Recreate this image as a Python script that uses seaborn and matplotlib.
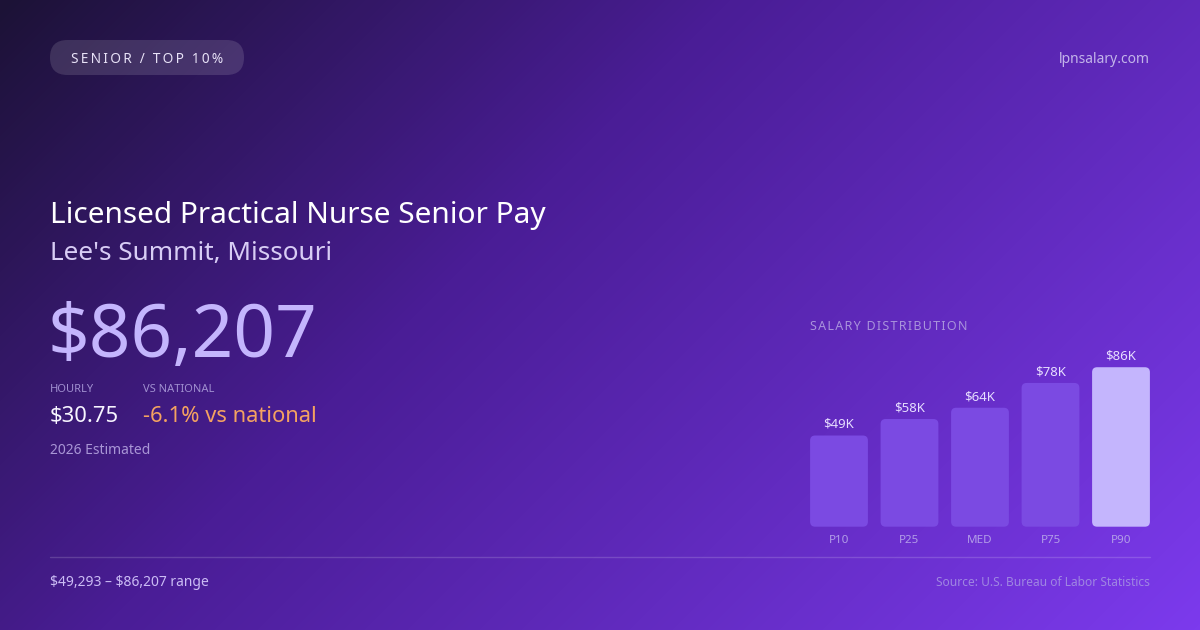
import numpy as np
import pandas as pd
import matplotlib
matplotlib.use("Agg")
import matplotlib.pyplot as plt
from matplotlib.patches import FancyBboxPatch
from matplotlib.colors import LinearSegmentedColormap
import seaborn as sns

# Chart data
percentiles = ["P10", "P25", "MED", "P75", "P90"]
salaries_k = [49.293, 58.2, 64.3, 77.7, 86.207]
value_labels = ["$49K", "$58K", "$64K", "$78K", "$86K"]
bar_colors = ["#7b4ae2", "#7b4ae2", "#7b4ae2", "#7b4ae2", "#c4b5fd"]

badge_text = "SENIOR / TOP 10%"
site = "lpnsalary.com"
title = "Licensed Practical Nurse Senior Pay"
location = "Lee's Summit, Missouri"
annual = "$86,207"
hourly = "$30.75"
vs_national = "-6.1% vs national"
estimate_note = "2026 Estimated"
range_text = "$49,293 \u2013 $86,207 range"
source = "Source: U.S. Bureau of Labor Statistics"

W, H = 1200, 630

sns.set_theme(style="white")
plt.rcParams["font.family"] = ["Noto Sans", "DejaVu Sans"]


def fx(x):
    return x / W


def fy(y):
    return 1 - y / H


def spaced(s, sep="\u200a"):
    return sep.join(s)


def put(x, y, s, **kw):
    # pixel coords from the top-left corner, no mathtext
    kw.setdefault("va", "baseline")
    kw.setdefault("ha", "left")
    return fig.text(fx(x), fy(y), s, parse_math=False, **kw)


fig = plt.figure(figsize=(W / 100, H / 100), dpi=100)

# background gradient (135deg)
bg = fig.add_axes([0, 0, 1, 1])
xx, yy = np.meshgrid(np.arange(W), np.arange(H))
t = ((xx - W / 2) + (yy - H / 2)) / (W + H) + 0.5
cmap = LinearSegmentedColormap.from_list(
    "bg", [(0, "#1c1236"), (0.4, "#4a1d96"), (1, "#7c3aed")])
bg.imshow(t, cmap=cmap, vmin=0, vmax=1, aspect="auto", extent=[0, W, H, 0])
bg.set_xlim(0, W)
bg.set_ylim(H, 0)
bg.axis("off")

# badge
pill = FancyBboxPatch((0.50, (H - 75) / 100), 1.94, 0.35,
                      boxstyle="round,pad=0,rounding_size=0.175",
                      transform=fig.dpi_scale_trans,
                      facecolor="white", alpha=0.13, edgecolor="none")
fig.add_artist(pill)
put(147, 63.3, spaced(badge_text, "\u2009"), ha="center", fontsize=9.8, color="#e8e2f7")
put(1150, 63, site, ha="right", fontsize=10, color="#c3b4ea")

# headline block
put(50, 223, title, fontsize=21.5, color="white")
put(50, 260, location, fontsize=18.8, color="#d8cdf5")
put(48, 357, annual, fontsize=52.5, color="#c4b5fd")

put(50, 392, "HOURLY", fontsize=8, color="#a08fd0")
put(143, 392, "VS NATIONAL", fontsize=8, color="#a08fd0")
put(50, 421.5, hourly, fontsize=15.8, color="#f7f5ff")
put(143, 421.5, vs_national, fontsize=15.8, color="#f4a261")
put(50, 454, estimate_note, fontsize=10, color="#a996d6")

# footer
fig.add_artist(plt.Line2D([fx(50), fx(1150)], [fy(556.5), fy(556.5)],
                          transform=fig.transFigure, color="white", alpha=0.16, lw=1))
put(50, 586.5, range_text, fontsize=10, color="#cbbcf5")
put(1150, 586.5, source, ha="right", fontsize=8.6, color="#9f86e2")

# salary distribution chart
put(810, 330, spaced("SALARY DISTRIBUTION"), fontsize=9, color="#a993dc")

step = 70.5
left = 839 - step / 2
ax = fig.add_axes([fx(left), fy(526.7), 5 * step / W, 185 / H])
df = pd.DataFrame({"pct": percentiles, "salary": salaries_k})
sns.barplot(data=df, x="pct", y="salary", hue="pct", palette=bar_colors,
            width=0.82, legend=False, saturation=1, ax=ax)
ax.set_xlim(-0.5, 4.5)
ax.set_ylim(0, 100)
ax.set_facecolor("none")
for s in ax.spines.values():
    s.set_visible(False)
ax.set_yticks([])
ax.set_xlabel("")
ax.set_ylabel("")
ax.tick_params(axis="x", length=0, pad=6, labelsize=8.4, labelcolor="#b29de8")

# rounded corners on the bars, radius ~5px
px_per_x = step
px_per_y = 185 / 100.0
r = 5 / px_per_x
aspect = px_per_x / px_per_y
for p, lbl in zip(list(ax.patches), value_labels):
    x0, w, h = p.get_x(), p.get_width(), p.get_height()
    rb = FancyBboxPatch((x0, 0), w, h, boxstyle=f"round,pad=0,rounding_size={r}",
                        mutation_aspect=aspect, facecolor=p.get_facecolor(),
                        edgecolor="none")
    ax.add_patch(rb)
    p.set_visible(False)
    ax.annotate(lbl, (x0 + w / 2, h), xytext=(0, 5.5), textcoords="offset points",
                ha="center", va="baseline", fontsize=9.5, color="#e6ddff")

fig.savefig("out.png", dpi=100)
